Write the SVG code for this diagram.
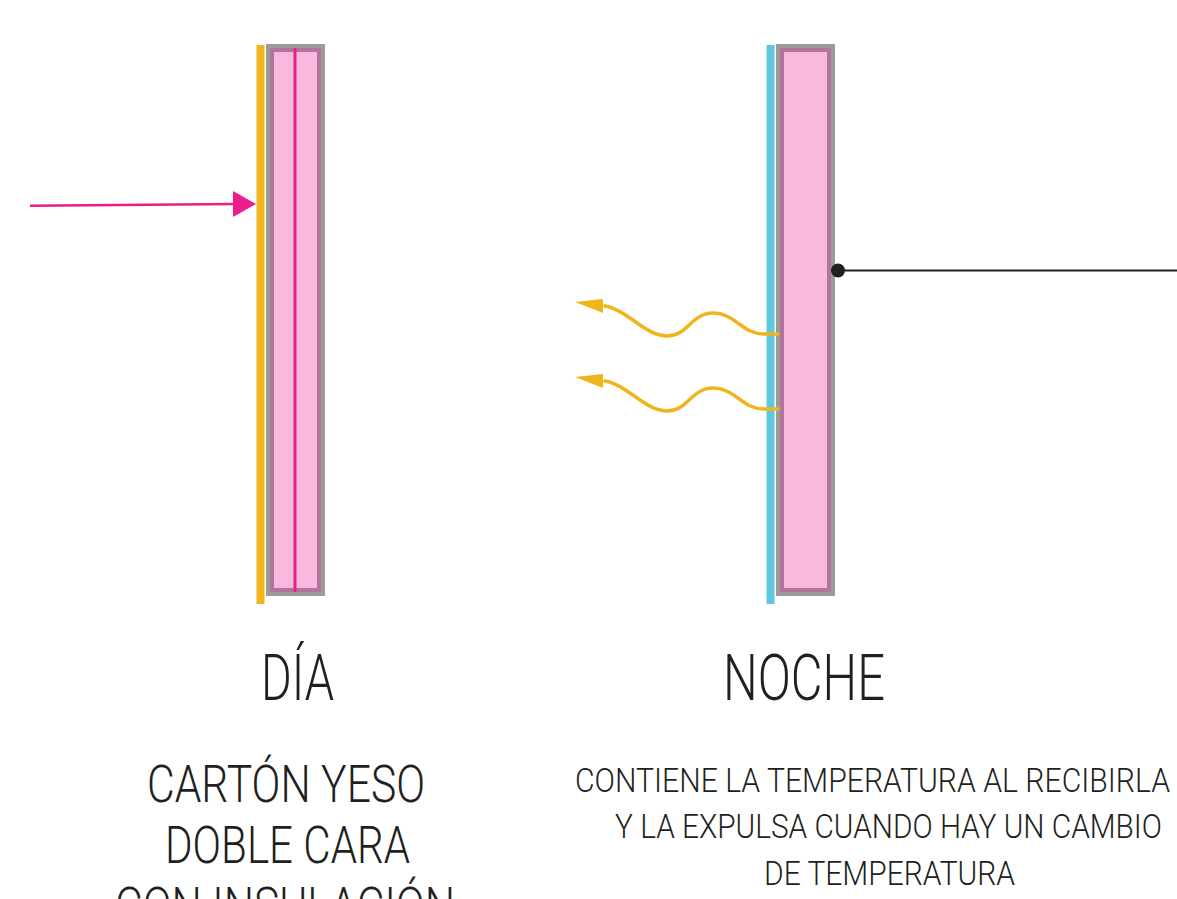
<svg xmlns="http://www.w3.org/2000/svg" width="1177" height="899" viewBox="0 0 1177 899">
<style>
.frame{fill:#9b9b9b}
.mauve{fill:#b3749b}
.pink{fill:#f7bade}
.t{font-family:Roboto,"Liberation Sans",Arial,sans-serif;font-weight:300;fill:#231f20}
.wave{fill:none;stroke:#f0b41c;stroke-width:3.5;stroke-linecap:round}
</style>
<rect width="1177" height="899" fill="#fff"/>
<g id="wall-dia">
<rect class="frame" x="266" y="44" width="59" height="552"/>
<rect class="mauve" x="270" y="48" width="51" height="544"/>
<rect class="pink" x="274" y="52" width="43" height="536"/>
<rect x="293.5" y="48" width="3" height="544" fill="#ec1c8c"/>
<rect x="256.5" y="45" width="8" height="559" fill="#f0b41c"/>
</g>
<g id="wall-noche">
<rect class="frame" x="776" y="44" width="59" height="552"/>
<rect class="mauve" x="780" y="48" width="51" height="544"/>
<rect class="pink" x="784" y="52" width="43" height="536"/>
<rect x="766.5" y="45" width="8" height="559" fill="#5ec8df"/>
</g>
<g id="connectors">
<line x1="30" y1="205.7" x2="236" y2="204" stroke="#ec1c8c" stroke-width="2.5"/>
<polygon points="233,191 256,204 233,217" fill="#ec1c8c"/>
<path class="wave" d="M778 334 L764 334 C742 334 735 313 713 313 C691 313 688 336 667 336 C645 336 628 310 605 306"/>
<polygon points="575,302 603,299 603,313" fill="#f0b41c"/>
<path class="wave" d="M778 409 L764 409 C742 409 735 388 713 388 C691 388 688 411 667 411 C645 411 628 385 605 381"/>
<polygon points="575,377 603,374 603,388" fill="#f0b41c"/>
<line x1="838" y1="270.5" x2="1177" y2="270.5" stroke="#231f20" stroke-width="2"/>
<circle cx="838" cy="270.5" r="7" fill="#231f20"/>
</g>
<g id="labels">
<text class="t" x="261" y="700" font-size="65" textLength="73" lengthAdjust="spacingAndGlyphs">DÍA</text>
<text class="t" x="723" y="700" font-size="65" textLength="162" lengthAdjust="spacingAndGlyphs">NOCHE</text>
<text class="t" x="147" y="802" font-size="52" textLength="278" lengthAdjust="spacingAndGlyphs">CARTÓN YESO</text>
<text class="t" x="165" y="863" font-size="52" textLength="245" lengthAdjust="spacingAndGlyphs">DOBLE CARA</text>
<text class="t" x="115" y="924" font-size="52" textLength="340" lengthAdjust="spacingAndGlyphs">CON INSULACIÓN</text>
<text class="t" x="575" y="792" font-size="33" textLength="595" lengthAdjust="spacingAndGlyphs">CONTIENE LA TEMPERATURA AL RECIBIRLA</text>
<text class="t" x="615" y="838" font-size="33" textLength="547" lengthAdjust="spacingAndGlyphs">Y LA EXPULSA CUANDO HAY UN CAMBIO</text>
<text class="t" x="764" y="885" font-size="33" textLength="251" lengthAdjust="spacingAndGlyphs">DE TEMPERATURA</text>
</g>
</svg>
